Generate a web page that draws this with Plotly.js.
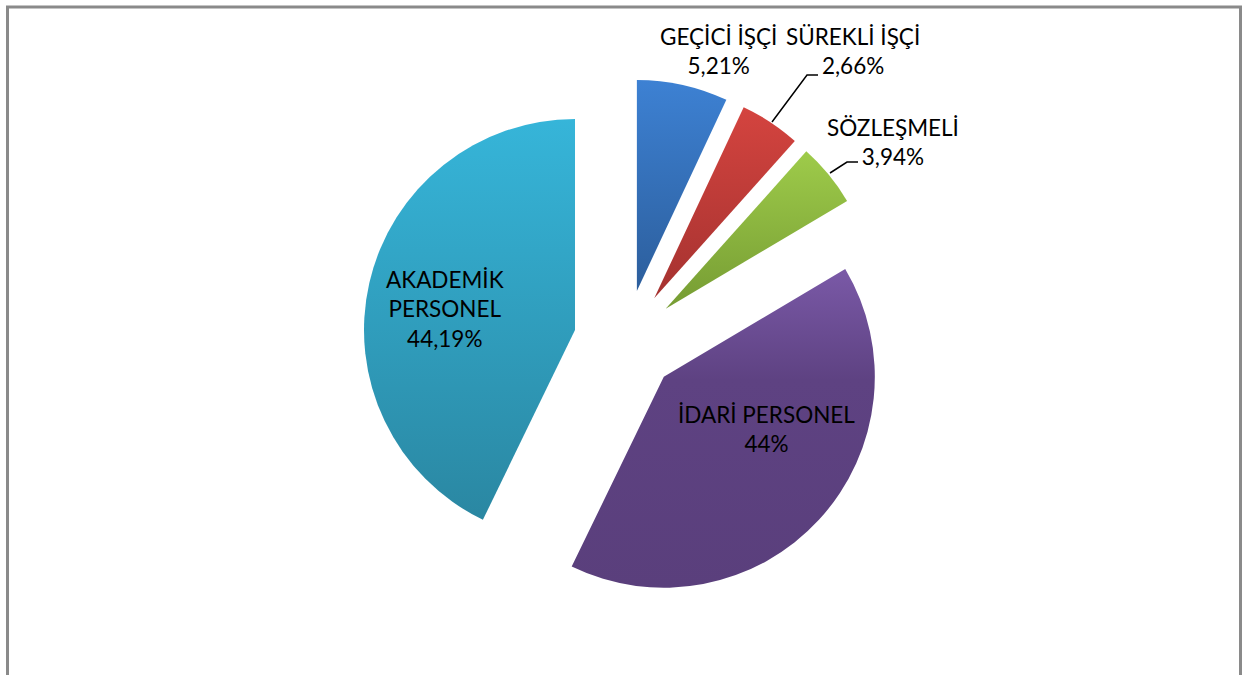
<!DOCTYPE html>
<html>
<head>
<meta charset="utf-8">
<script src="https://cdn.plot.ly/plotly-3.0.1.min.js"></script>
<style>
  html, body { margin: 0; padding: 0; background: #ffffff; }
  #chart { width: 1242px; height: 675px; }
</style>
</head>
<body>
<div id="chart"></div>
<script>
// ---- data ----
const categories = ["GEÇİCİ İŞÇİ", "SÜREKLİ İŞÇİ", "SÖZLEŞMELİ", "İDARİ PERSONEL", "AKADEMİK PERSONEL"];
// slice shares as drawn (measured from slice angles, in %)
const sliceShares = [6.97, 4.64, 4.86, 40.72, 42.81];
// percentage texts printed on the chart
const percentLabels = ["5,21%", "2,66%", "3,94%", "44%", "44,19%"];
// category label lines as printed
const labelLines = [
  ["GEÇİCİ İŞÇİ"],
  ["SÜREKLİ İŞÇİ"],
  ["SÖZLEŞMELİ"],
  ["İDARİ PERSONEL"],
  ["AKADEMİK", "PERSONEL"]
];

// ---- styles / layout ----
const W = 1242, H = 675;
const colors = ["#3573BD", "#C53D3B", "#8CB73F", "#5E4282", "#31A3C6"];
const gradTop = ["#3D81D3", "#D4443F", "#9ECB4A", "#7A59A7", "#36B5D9"];
const gradBot = ["#2C5E9C", "#A53230", "#769C33", "#5A3F7C", "#2A87A2"];
const pulls = [0.246, 0.246, 0.246, 0.246, 0.246];
const FONT = "Lato, 'Open Sans', sans-serif";
const FS = 22.5;

// label block centres in pixels (top-left origin)
const labelPos = [
  {x: 718, y: 51},
  {x: 853, y: 51},
  {x: 893, y: 142},
  {x: 766, y: 429},
  {x: 445, y: 309}
];

const px = (x) => x / W;
const py = (y) => 1 - y / H;

const trace = {
  type: "pie",
  labels: categories,
  values: sliceShares,
  sort: false,
  direction: "clockwise",
  rotation: 0,
  pull: pulls,
  marker: { colors: colors, line: { width: 0 } },
  textinfo: "none",
  hoverinfo: "label+percent",
  showlegend: false,
  domain: { x: [0.2920, 0.7154], y: [0.1044, 0.8834] }
};

const annotations = categories.map((c, i) => ({
  xref: "paper", yref: "paper",
  x: px(labelPos[i].x), y: py(labelPos[i].y),
  xanchor: "center", yanchor: "middle",
  text: labelLines[i].concat([percentLabels[i]]).join("<br>"),
  showarrow: false,
  align: "center",
  font: { family: FONT, size: FS, color: "#000000" }
}));

const shapes = [
  // outer frame
  { type: "rect", xref: "paper", yref: "paper",
    x0: px(7.5), x1: px(1240.5), y0: -0.05, y1: py(7),
    line: { color: "#8A8A8A", width: 3 }, fillcolor: "rgba(0,0,0,0)" },
  // leader line for SÜREKLİ İŞÇİ
  { type: "path", xref: "paper", yref: "paper",
    path: `M ${px(772)} ${py(122)} L ${px(807)} ${py(75)} L ${px(818)} ${py(75)}`,
    line: { color: "#000000", width: 1.5 } },
  // leader line for SÖZLEŞMELİ
  { type: "path", xref: "paper", yref: "paper",
    path: `M ${px(830)} ${py(173)} L ${px(847)} ${py(162)} L ${px(858)} ${py(162)}`,
    line: { color: "#000000", width: 1.5 } }
];

const layout = {
  width: W, height: H,
  margin: { l: 0, r: 0, t: 0, b: 0 },
  paper_bgcolor: "#ffffff",
  plot_bgcolor: "#ffffff",
  showlegend: false,
  annotations: annotations,
  shapes: shapes
};

Plotly.newPlot("chart", [trace], layout, { staticPlot: true, displayModeBar: false }).then((gd) => {
  // vertical shading like the original (fill of Plotly's own slice paths)
  const svg = gd.querySelector("svg.main-svg");
  if (!svg) return;
  const ns = "http://www.w3.org/2000/svg";
  let defs = svg.querySelector("defs");
  if (!defs) { defs = document.createElementNS(ns, "defs"); svg.insertBefore(defs, svg.firstChild); }
  const slices = gd.querySelectorAll("g.slice");
  slices.forEach((g, i) => {
    const path = g.querySelector("path.surface");
    if (!path) return;
    const id = "sliceGrad" + i;
    const lg = document.createElementNS(ns, "linearGradient");
    lg.setAttribute("id", id);
    lg.setAttribute("x1", "0"); lg.setAttribute("y1", "0");
    lg.setAttribute("x2", "0"); lg.setAttribute("y2", "1");
    const s1 = document.createElementNS(ns, "stop");
    s1.setAttribute("offset", "0"); s1.setAttribute("stop-color", gradTop[i]);
    const s2 = document.createElementNS(ns, "stop");
    s2.setAttribute("offset", i === 3 ? "0.35" : "1"); s2.setAttribute("stop-color", i === 3 ? colors[i] : gradBot[i]);
    lg.appendChild(s1); lg.appendChild(s2);
    if (i === 3) {
      const s3 = document.createElementNS(ns, "stop");
      s3.setAttribute("offset", "1"); s3.setAttribute("stop-color", gradBot[i]);
      lg.appendChild(s3);
    }
    defs.appendChild(lg);
    path.style.fill = "url(#" + id + ")";
  });
});
</script>
</body>
</html>
